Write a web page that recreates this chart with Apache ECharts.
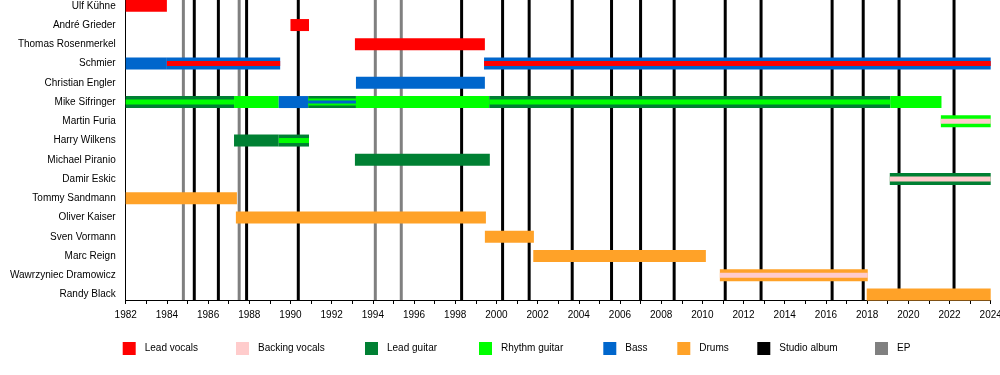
<!DOCTYPE html>
<html>
<head>
<meta charset="utf-8">
<script src="https://cdn.jsdelivr.net/npm/echarts@6/dist/echarts.min.js"></script>
<style>
html,body{margin:0;padding:0;background:#fff;}
#chart{width:1000px;height:375px;}
</style>
</head>
<body>
<div id="chart"></div>
<script>
// ---------- DATA ----------
var members = ['Ulf Kühne','André Grieder','Thomas Rosenmerkel','Schmier','Christian Engler','Mike Sifringer','Martin Furia','Harry Wilkens','Michael Piranio','Damir Eskic','Tommy Sandmann','Oliver Kaiser','Sven Vormann','Marc Reign','Wawrzyniec Dramowicz','Randy Black'];
var roles = ['Lead vocals','Backing vocals','Lead guitar','Rhythm guitar','Bass','Drums'];
// [member, start, end, roles (outer first)]
var segments = [
  ['Ulf Kühne', 1982, 1984.0, ['Lead vocals']],
  ['André Grieder', 1990.0, 1990.9, ['Lead vocals']],
  ['Thomas Rosenmerkel', 1993.13, 1999.44, ['Lead vocals']],
  ['Schmier', 1982, 1984.0, ['Bass']],
  ['Schmier', 1984.0, 1989.5, ['Bass','Lead vocals']],
  ['Schmier', 1999.4, 2024, ['Bass','Lead vocals']],
  ['Christian Engler', 1993.18, 1999.44, ['Bass']],
  ['Mike Sifringer', 1982, 1987.26, ['Lead guitar','Rhythm guitar']],
  ['Mike Sifringer', 1987.26, 1989.43, ['Rhythm guitar']],
  ['Mike Sifringer', 1989.43, 1990.86, ['Bass']],
  ['Mike Sifringer', 1990.86, 1993.18, ['Lead guitar','Rhythm guitar','Bass']],
  ['Mike Sifringer', 1993.18, 1999.65, ['Rhythm guitar']],
  ['Mike Sifringer', 1999.65, 2019.13, ['Lead guitar','Rhythm guitar']],
  ['Mike Sifringer', 2019.13, 2021.61, ['Rhythm guitar']],
  ['Martin Furia', 2021.58, 2024, ['Rhythm guitar','Backing vocals']],
  ['Harry Wilkens', 1987.26, 1989.43, ['Lead guitar']],
  ['Harry Wilkens', 1989.43, 1990.9, ['Lead guitar','Rhythm guitar']],
  ['Michael Piranio', 1993.13, 1999.68, ['Lead guitar']],
  ['Damir Eskic', 2019.1, 2024, ['Lead guitar','Backing vocals']],
  ['Tommy Sandmann', 1982, 1987.4, ['Drums']],
  ['Oliver Kaiser', 1987.35, 1999.49, ['Drums']],
  ['Sven Vormann', 1999.44, 2001.82, ['Drums']],
  ['Marc Reign', 2001.79, 2010.17, ['Drums']],
  ['Wawrzyniec Dramowicz', 2010.85, 2018.03, ['Drums','Backing vocals']],
  ['Randy Black', 2017.98, 2024, ['Drums']]
];
var studioAlbums = [1985.33, 1986.5, 1987.87, 1990.38, 1998.31, 2000.3, 2001.59, 2003.68, 2005.59, 2007.0, 2008.63, 2011.11, 2012.85, 2016.3, 2017.81, 2019.55, 2022.22];
var eps = [1984.8, 1987.51, 1994.12, 1995.38];
var yearMin = 1982, yearMax = 2024;

// ---------- STYLE ----------
var roleColors = {
  'Lead vocals':'#ff0000','Backing vocals':'#ffcccc','Lead guitar':'#008033',
  'Rhythm guitar':'#00ff00','Bass':'#0066cc','Drums':'#ffa228'
};
var albumColor = '#000000', epColor = '#808080';
var layerWidths = {1:[12],2:[12,5],3:[12,7,3]};
var FONT = '"Liberation Sans", Arial, Helvetica, sans-serif';

// build bar items (outer layers first so stripes are drawn on top)
var barItems = [];
segments.forEach(function(s){
  var row = members.indexOf(s[0]);
  var n = s[3].length;
  s[3].forEach(function(r, li){
    barItems.push([s[1], s[2], row, roles.indexOf(r), li, n]);
  });
});

var rowStep = 19.25, firstRow = 5.8, plotH = 300;
var yMinV = -firstRow / rowStep;
var yMaxV = yMinV + plotH / rowStep;

function lineRender(color){
  return function(params, api){
    var x = api.coord([api.value(0), 0])[0];
    var cs = params.coordSys;
    return {type:'line', shape:{x1:x, y1:cs.y, x2:x, y2:cs.y+cs.height},
      style:{stroke:color, lineWidth:3}};
  };
}

var series = [
  {type:'custom', name:'Studio album', xAxisIndex:0, yAxisIndex:0, z:1,
   itemStyle:{color:albumColor}, renderItem: lineRender(albumColor),
   data: studioAlbums.map(function(v){return [v];}), encode:{x:0}},
  {type:'custom', name:'EP', xAxisIndex:0, yAxisIndex:0, z:1,
   itemStyle:{color:epColor}, renderItem: lineRender(epColor),
   data: eps.map(function(v){return [v];}), encode:{x:0}},
  {type:'custom', name:'bars', xAxisIndex:0, yAxisIndex:0, z:3,
   renderItem: function(params, api){
     var p0 = api.coord([api.value(0), api.value(2)]);
     var p1 = api.coord([api.value(1), api.value(2)]);
     var h = layerWidths[api.value(5)][api.value(4)];
     return {type:'rect', shape:{x:p0[0], y:p0[1]-h/2, width:p1[0]-p0[0], height:h},
       style:{fill: roleColors[roles[api.value(3)]]}};
   },
   data: barItems, encode:{x:[0,1], y:2}}
];
roles.forEach(function(r){
  series.push({type:'custom', name:r, xAxisIndex:0, yAxisIndex:0,
    itemStyle:{color:roleColors[r]}, renderItem:function(){return null;}, data:[]});
});

var legendOrder = ['Lead vocals','Backing vocals','Lead guitar','Rhythm guitar','Bass','Drums','Studio album','EP'];
var legendLefts = [122.7, 236, 365, 479, 603.3, 677.3, 757.3, 875];
var legends = legendOrder.map(function(name, i){
  return {data:[name], left:legendLefts[i], top:342, padding:0, itemWidth:13, itemHeight:13,
    icon:'rect', selectedMode:false,
    textStyle:{fontSize:10, color:'#000', fontFamily:FONT, padding:[0,0,0,4]}};
});

var chart = echarts.init(document.getElementById('chart'), null, {renderer:'canvas'});
chart.setOption({
  animation:false,
  backgroundColor:'#fff',
  grid:[
    {left:125.7, right:9.3, top:0, height:plotH, outerBoundsMode:'none', containLabel:false},
    {left:125.7, right:9.3, top:firstRow - rowStep/2, height:rowStep*members.length, outerBoundsMode:'none', containLabel:false}
  ],
  xAxis:[
    {type:'value', gridIndex:0, position:'bottom', min:yearMin, max:yearMax, interval:1,
     axisLine:{show:true, onZero:false, lineStyle:{color:'#000', width:1}},
     axisTick:{show:true, length:4, lineStyle:{color:'#000'}},
     splitLine:{show:false},
     axisLabel:{fontSize:10, color:'#000', fontFamily:FONT, margin:10,
       formatter:function(v){return v % 2 === 0 ? String(v) : '';}}},
    {type:'value', gridIndex:1, position:'bottom', min:yearMin, max:yearMax, show:false,
     axisLine:{show:false}, axisTick:{show:false}, axisLabel:{show:false}, splitLine:{show:false}}
  ],
  yAxis:[
    {type:'value', gridIndex:0, inverse:true, min:yMinV, max:yMaxV,
     axisLine:{show:true, onZero:false, lineStyle:{color:'#000', width:1}},
     axisTick:{show:false}, axisLabel:{show:false}, splitLine:{show:false}},
    {type:'category', gridIndex:1, inverse:true, data:members,
     axisLine:{show:false}, axisTick:{show:false}, splitLine:{show:false},
     axisLabel:{fontSize:10, color:'#000', fontFamily:FONT, margin:10}}
  ],
  legend: legends,
  series: series
});
</script>
</body>
</html>
